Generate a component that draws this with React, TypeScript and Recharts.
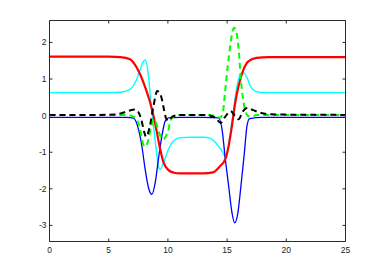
import React from 'react';
import { LineChart, Line, XAxis, YAxis } from 'recharts';

const xTicks = [0, 5, 10, 15, 20, 25];
const yTicks = [-3, -2, -1, 0, 1, 2];

const redX = [0, 5, 6, 6.8, 7.2, 7.65, 8.1, 8.5, 8.78, 9.07, 9.35, 9.63, 10.05, 10.5, 11, 12, 13, 13.8, 14.4, 14.85, 15.13, 15.41, 15.69, 15.97, 16.4, 16.82, 17.5, 18.5, 25];
const redY = [1.61, 1.61, 1.6, 1.54, 1.4, 1.13, 0.76, 0.36, 0.0, -0.46, -0.92, -1.28, -1.49, -1.56, -1.58, -1.58, -1.58, -1.55, -1.38, -1.19, -0.83, -0.28, 0.36, 0.81, 1.27, 1.49, 1.58, 1.6, 1.6];

const cyanX = [0, 5, 6, 6.8, 7.23, 7.66, 7.85, 8.08, 8.36, 8.56, 8.78, 9.01, 9.2, 9.35, 9.63, 10.05, 10.47, 11.04, 12, 13, 13.58, 14.14, 14.57, 14.93, 15.27, 15.55, 15.84, 16.12, 16.34, 16.68, 16.96, 17.39, 18, 25];
const cyanY = [0.63, 0.63, 0.64, 0.72, 0.9, 1.26, 1.43, 1.52, 1.08, 0.36, -0.28, -0.92, -1.38, -1.47, -1.28, -0.92, -0.69, -0.6, -0.59, -0.59, -0.62, -0.78, -0.97, -1.15, -0.46, 0.17, 0.81, 1.13, 1.19, 1.04, 0.81, 0.67, 0.63, 0.63];

const blueX = [0, 5, 6.5, 7.09, 7.51, 7.8, 8.08, 8.36, 8.64, 8.93, 9.2, 9.49, 9.77, 10.05, 11, 13, 14.28, 14.57, 14.85, 15.13, 15.41, 15.64, 15.89, 16.17, 16.46, 16.68, 16.9, 18, 25];
const blueY = [-0.05, -0.05, -0.05, -0.07, -0.37, -0.83, -1.47, -1.97, -2.15, -1.83, -1.19, -0.56, -0.15, -0.06, -0.05, -0.05, -0.06, -0.37, -1.19, -1.92, -2.65, -2.93, -2.7, -1.92, -1.01, -0.28, -0.08, -0.05, -0.05];

const greenX = [0, 5, 6.5, 7.2, 7.63, 7.91, 8.05, 8.33, 8.6, 8.85, 9.1, 9.35, 9.6, 9.85, 10.03, 10.17, 10.45, 11, 13, 14.0, 14.4, 14.65, 14.82, 14.96, 15.16, 15.38, 15.6, 15.85, 16.0, 16.14, 16.31, 16.51, 16.73, 17.0, 17.5, 25];
const greenY = [0.02, 0.02, 0.02, -0.05, -0.33, -0.78, -0.85, -0.69, -0.3, -0.1, -0.3, -0.55, -0.65, -0.55, -0.42, -0.19, -0.03, 0.02, 0.02, 0.0, -0.06, 0.1, 0.63, 1.08, 1.63, 2.17, 2.4, 2.17, 1.72, 1.08, 0.54, 0.17, 0.0, -0.03, 0.02, 0.02];

const blackX = [0, 4, 5.5, 6.0, 6.6, 7.2, 7.5, 7.75, 8.0, 8.15, 8.45, 8.76, 9.1, 9.46, 9.69, 9.85, 10.05, 10.4, 11, 13, 14.0, 14.45, 14.8, 15.3, 15.65, 15.97, 16.3, 16.7, 17.2, 17.8, 18.5, 19.5, 25];
const blackY = [0.02, 0.02, 0.03, 0.06, 0.12, 0.17, 0.1, -0.1, -0.45, -0.58, -0.33, 0.22, 0.67, 0.49, 0.13, -0.08, -0.14, -0.02, 0.02, 0.02, -0.05, -0.2, -0.05, 0.12, 0.0, -0.1, 0.1, 0.21, 0.15, 0.08, 0.04, 0.03, 0.02];

const toRows = (xs: number[], ys: number[]) => xs.map((x, i) => ({ x, y: ys[i] }));

const redData = toRows(redX, redY);
const cyanData = toRows(cyanX, cyanY);
const blueData = toRows(blueX, blueY);
const greenData = toRows(greenX, greenY);
const blackData = toRows(blackX, blackY);

const axisColor = '#2a2a2a';
const tickStyle = { fontSize: 8.5, fill: '#222', fontFamily: '"Liberation Sans", Arial, sans-serif' };
const yDomain: [number, number] = [-3.44, 2.6];

export default function App() {
  return (
    <div style={{ position: 'absolute', left: 0, top: 0, background: '#fff' }}>
      <LineChart width={382} height={273} margin={{ top: 0, right: 0, bottom: 0, left: 0 }}>
        <XAxis
          xAxisId="bottom"
          dataKey="x"
          type="number"
          domain={[0, 25]}
          ticks={xTicks}
          allowDataOverflow
          height={31.5}
          tickSize={-3}
          tickMargin={8.5}
          stroke={axisColor}
          tick={tickStyle}
          interval={0}
        />
        <XAxis
          xAxisId="top"
          orientation="top"
          dataKey="x"
          type="number"
          domain={[0, 25]}
          ticks={xTicks}
          allowDataOverflow
          height={20.5}
          tickSize={-3}
          stroke={axisColor}
          tickFormatter={() => ''}
          interval={0}
        />
        <YAxis
          yAxisId="left"
          type="number"
          domain={yDomain}
          ticks={yTicks}
          allowDataOverflow
          width={49.5}
          tickSize={-3}
          tickMargin={6}
          stroke={axisColor}
          tick={tickStyle}
          interval={0}
        />
        <YAxis
          yAxisId="right"
          orientation="right"
          type="number"
          domain={yDomain}
          ticks={yTicks}
          allowDataOverflow
          width={36.5}
          tickSize={-3}
          stroke={axisColor}
          tickFormatter={() => ''}
          interval={0}
        />
        <Line xAxisId="bottom" yAxisId="left" data={cyanData} dataKey="y" type="monotone" stroke="#00ffff" strokeWidth={1.4} dot={false} isAnimationActive={false} />
        <Line xAxisId="bottom" yAxisId="left" data={blueData} dataKey="y" type="monotone" stroke="#0000ff" strokeWidth={1.3} dot={false} isAnimationActive={false} />
        <Line xAxisId="bottom" yAxisId="left" data={redData} dataKey="y" type="monotone" stroke="#ff0000" strokeWidth={2.2} dot={false} isAnimationActive={false} />
        <Line xAxisId="bottom" yAxisId="left" data={greenData} dataKey="y" type="monotone" stroke="#00ff00" strokeWidth={2} strokeDasharray="6 4" dot={false} isAnimationActive={false} />
        <Line xAxisId="bottom" yAxisId="left" data={blackData} dataKey="y" type="monotone" stroke="#000000" strokeWidth={2} strokeDasharray="6 4" dot={false} isAnimationActive={false} />
      </LineChart>
    </div>
  );
}
